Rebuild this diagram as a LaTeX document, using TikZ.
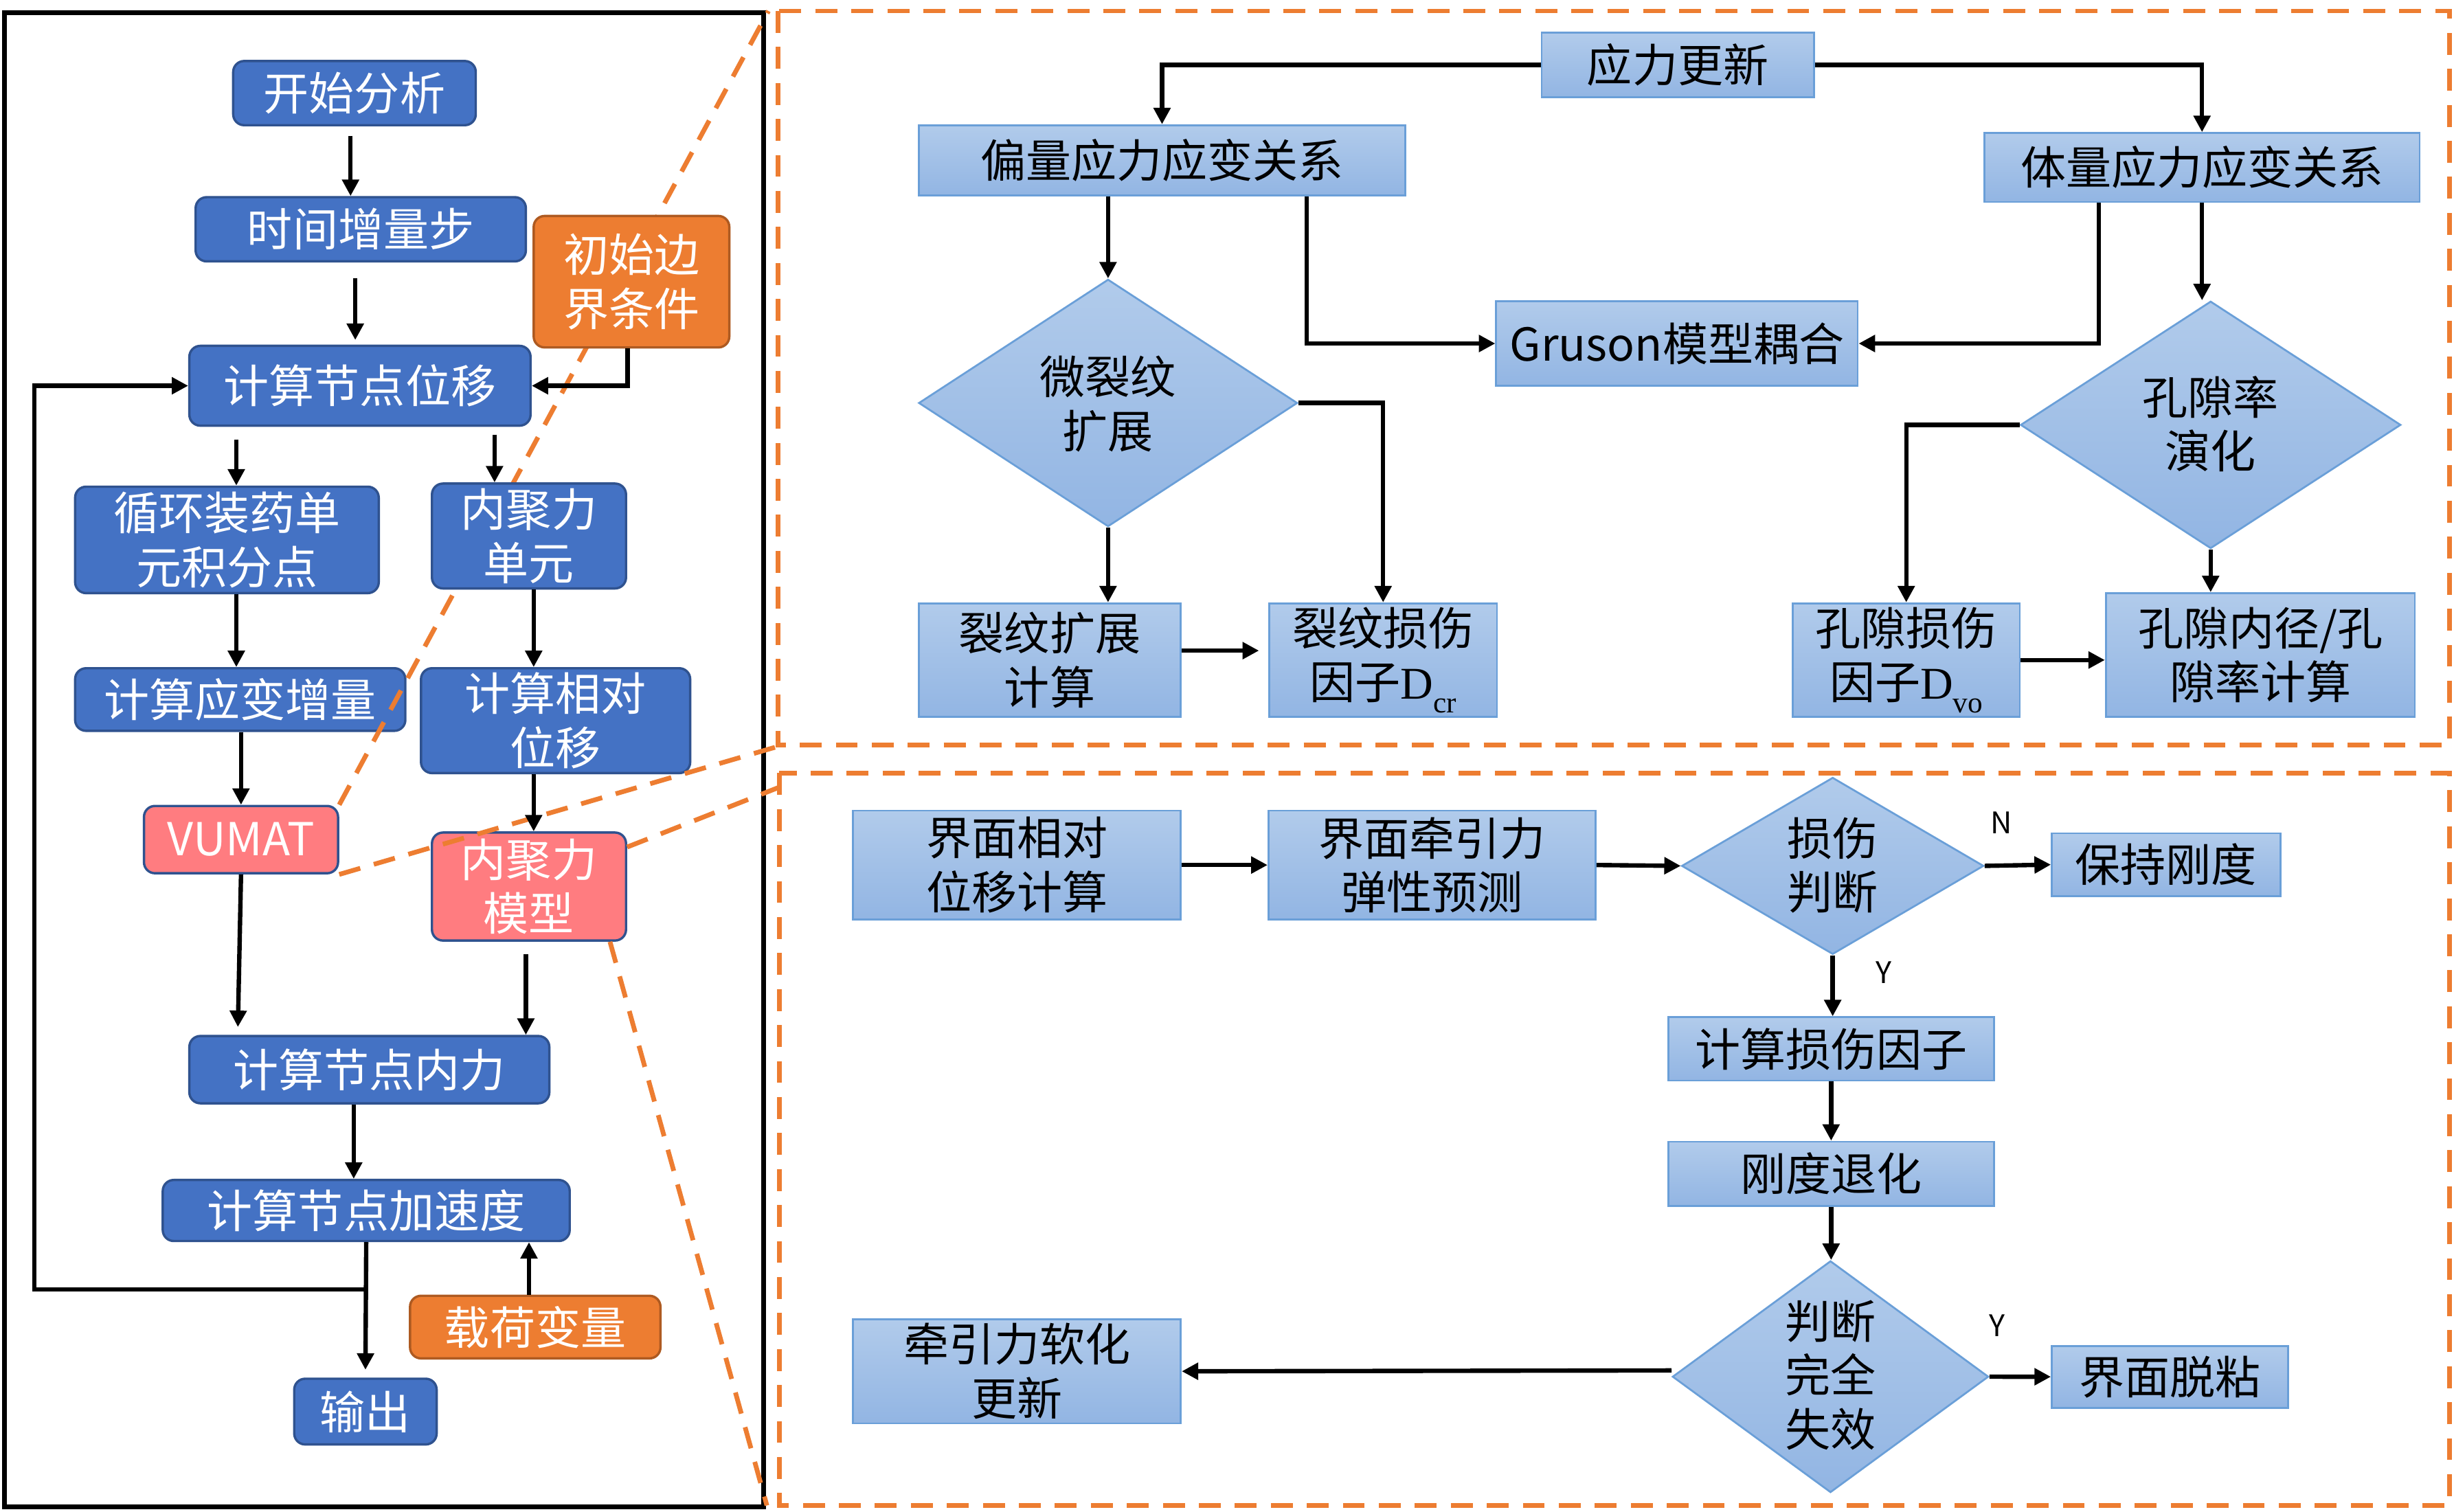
\documentclass[tikz,border=0pt]{standalone}
\usepackage{fontspec}
\newfontfamily\cjk{Noto Sans CJK SC}
\newfontfamily\tms{Liberation Serif}
\usetikzlibrary{arrows.meta,shapes.geometric}
\definecolor{bfill}{HTML}{4472C4}
\definecolor{bdraw}{HTML}{2F528F}
\definecolor{ofill}{HTML}{ED7D31}
\definecolor{odraw}{HTML}{AE5A21}
\definecolor{pfill}{HTML}{FF7C80}
\definecolor{ltop}{HTML}{B1CBEB}
\definecolor{lbot}{HTML}{92B5E3}
\definecolor{ldraw}{HTML}{6A9FD8}
\definecolor{zoomorange}{HTML}{ED7D31}
\begin{document}
\begin{tikzpicture}[x=1pt,y=-1pt,
  txt/.style={font=\cjk\fontsize{29}{34.5}\selectfont, align=center, inner sep=0pt},
  lbx/.style={txt, rectangle, rounded corners=7pt, fill=bfill, draw=bdraw, line width=1.5pt, text=white},
  obx/.style={lbx, fill=ofill, draw=odraw},
  pbx/.style={lbx, fill=pfill, draw=bdraw},
  gbx/.style={txt, rectangle, top color=ltop, bottom color=lbot, draw=ldraw, line width=1.2pt, text=black},
  gdm/.style={diamond, inner sep=0pt, top color=ltop, bottom color=lbot, draw=ldraw, line width=1.2pt},
  arr/.style={line width=2.8pt, -{Triangle[length=10.5pt,width=10.5pt]}},
  zoomline/.style={draw=zoomorange, line width=3pt, dash pattern=on 14pt off 9pt},
  yn/.style={font=\cjk\fontsize{19}{19}\selectfont, inner sep=0pt}
]
\fill[white] (0,0) rectangle (1568,966);
\useasboundingbox (0,0) rectangle (1568,966);

% ---------- left panel nodes (those under the zoom lines) ----------
\node[lbx, minimum width=155, minimum height=41] (start) at (226.5,59.5) {开始分析};
\node[lbx, minimum width=211, minimum height=41] (timestep) at (230.5,146.5) {时间增量步};
\node[lbx, minimum width=218, minimum height=51] (disp) at (230,246.5) {计算节点位移};
\node[lbx, minimum width=194, minimum height=68] (loopint) at (145,345) {循环装药单\\元积分点};
\node[lbx, minimum width=211, minimum height=40] (strain) at (153.5,447) {计算应变增量};
\node[lbx, minimum width=172, minimum height=67] (reldisp) at (355,460.5) {计算相对\\位移};
\node[pbx, minimum width=124, minimum height=43] (vumat) at (154,536.5) {VUMAT};
\node[pbx, minimum width=124, minimum height=69] (cohmod) at (338,566.5) {内聚力\\模型};
\node[lbx, minimum width=230, minimum height=43] (intforce) at (236,683.5) {计算节点内力};
\node[lbx, minimum width=260, minimum height=39] (accel) at (234,773.5) {计算节点加速度};
\node[obx, minimum width=160, minimum height=40] (load) at (342,848) {载荷变量};
\node[lbx, minimum width=91, minimum height=42] (output) at (233.5,902) {输出};

% ---------- upper right panel nodes ----------
\node[gbx, minimum width=174, minimum height=41] (stress) at (1072,41.5) {应力更新};
\node[gbx, minimum width=311, minimum height=45] (dev) at (742.5,102.5) {偏量应力应变关系};
\node[gbx, minimum width=278, minimum height=44] (vol) at (1407,107) {体量应力应变关系};
\node[gbx, minimum width=231, minimum height=54] (gruson) at (1071.5,219.5) {Gruson模型耦合};
\node[gdm, minimum width=242, minimum height=158] (d1) at (708,257.5) {};
\node[txt] (d1t) at (708,258) {微裂纹\\扩展};
\node[gdm, minimum width=243, minimum height=158] (d2) at (1412.5,271.5) {};
\node[txt] (d2t) at (1412.5,271) {孔隙率\\演化};
\node[gbx, minimum width=167.5, minimum height=72.5] (crackcalc) at (670.75,421.75) {裂纹扩展\\计算};
\node[gbx, minimum width=145.5, minimum height=72.5] (crackdmg) at (883.75,421.75) {裂纹损伤\\因子{\tms D\raisebox{-0.3em}{\fontsize{19}{19}\selectfont cr}}};
\node[gbx, minimum width=145, minimum height=72.5] (poredmg) at (1218,421.75) {孔隙损伤\\因子{\tms D\raisebox{-0.3em}{\fontsize{19}{19}\selectfont vo}}};
\node[gbx, minimum width=197.5, minimum height=79] (porecalc) at (1444.25,418.5) {孔隙内径/孔\\隙率计算};

% ---------- lower right panel nodes ----------
\node[gbx, minimum width=209.5, minimum height=69.5] (relpos) at (649.75,552.75) {界面相对\\位移计算};
\node[gbx, minimum width=209, minimum height=69.5] (trac) at (915,552.75) {界面牵引力\\弹性预测};
\node[gdm, minimum width=193, minimum height=113] (d3) at (1171,553.3) {};
\node[txt] (d3t) at (1171,553) {损伤\\判断};
\node[gbx, minimum width=146, minimum height=40] (keep) at (1384,552.5) {保持刚度};
\node[gbx, minimum width=208, minimum height=40.5] (cdf) at (1170,670.25) {计算损伤因子};
\node[gbx, minimum width=208, minimum height=41] (degrade) at (1170,750) {刚度退化};
\node[gdm, minimum width=202, minimum height=148] (d4) at (1169.6,879.7) {};
\node[txt] (d4t) at (1169.6,878.6) {判断\\完全\\失效};
\node[gbx, minimum width=151, minimum height=39.5] (debond) at (1386.5,879.75) {界面脱粘};
\node[gbx, minimum width=209.5, minimum height=66.5] (soft) at (649.75,876.25) {牵引力软化\\更新};

\node[yn] (lN) at (1278.6,525.8) {N};
\node[yn] (lY1) at (1203.8,621.5) {Y};
\node[yn] (lY2) at (1276,847) {Y};

% ---------- frames and zoom lines ----------
\draw[line width=3pt] (3,8) rectangle (488,963);
\draw[zoomline] (497,7) rectangle (1565,476);
\draw[zoomline] (498,494) rectangle (1565,962);
\draw[zoomline] (vumat.north east) -- (491,7);
\draw[zoomline] (vumat.south east) -- (497,477);
\draw[zoomline] ([yshift=-10pt]cohmod.north east) -- (498,503);
\draw[zoomline] ([xshift=-11pt]cohmod.south east) -- (490,962);

% ---------- left panel nodes that sit over the zoom lines ----------
\node[obx, minimum width=125, minimum height=84] (init) at (403.5,180) {初始边\\界条件};
\node[lbx, minimum width=124, minimum height=67] (cohel) at (338,342.5) {内聚力\\单元};

% ---------- left arrows ----------
\draw[arr] ([xshift=-2.5pt,yshift=-6pt]start.south) -- ([xshift=-2.5pt]start.south |- timestep.north);
\draw[arr] ([xshift=-3.5pt,yshift=-10pt]timestep.south) -- ([xshift=-3.5pt,yshift=3pt]timestep.south |- disp.north);
\draw[arr] ([xshift=-2.5pt]init.south) |- (disp.east);
\draw[arr] ([xshift=6pt,yshift=-8pt]loopint.north |- disp.south) -- ([xshift=6pt]loopint.north);
\draw[arr] ([xshift=-22pt,yshift=-5pt]cohel.north |- disp.south) -- ([xshift=-22pt]cohel.north);
\draw[arr] ([xshift=6pt]loopint.south) -- ([xshift=6pt]loopint.south |- strain.north);
\draw[arr] ([xshift=3pt]cohel.south) -- ([xshift=3pt]cohel.south |- reldisp.north);
\draw[arr] (vumat.north |- strain.south) -- (vumat.north);
\draw[arr] ([xshift=3pt]cohmod.north |- reldisp.south) -- ([xshift=3pt]cohmod.north);
\draw[arr] (vumat.south) -- ([xshift=-2pt,yshift=5pt]vumat.south |- intforce.north);
\draw[arr] ([xshift=-2pt,yshift=-8pt]cohmod.south) -- ([xshift=-2pt]cohmod.south |- intforce.north);
\draw[arr] ([xshift=-10pt]intforce.south) -- ([xshift=-10pt]intforce.south |- accel.north);
\draw[arr] ([xshift=-4pt]load.north) -- ([xshift=-4pt]load.north |- accel.south);
\draw[arr] (accel.south) -- ([yshift=5pt]output.north);
\coordinate (lp) at (22,824);
\draw[arr] (accel.south |- lp) -- (lp) |- (disp.west);

% ---------- upper right arrows ----------
\draw[arr] (stress.west) -| (dev.north);
\draw[arr] (stress.east) -| (vol.north);
\draw[arr] (d1.north |- dev.south) -- (d1.north);
\draw[arr] ([xshift=92.5pt]dev.south) |- (gruson.west);
\draw[arr] ([xshift=-66pt]vol.south) |- (gruson.east);
\draw[arr] (vol.south) -- (vol.south |- d2.north);
\draw[arr] (d1.east) -| (crackdmg.north);
\draw[arr] (d1.south) -- (d1.south |- crackcalc.north);
\draw[arr] ([yshift=6pt]crackcalc.east) -- ([xshift=-6pt,yshift=6pt]crackdmg.west);
\draw[arr] (d2.west) -| (poredmg.north);
\draw[arr] (d2.south) -- (d2.south |- porecalc.north);
\draw[arr] (poredmg.east) -- (poredmg.east -| porecalc.west);

% ---------- lower right arrows ----------
\draw[arr] (relpos.east) -- (trac.west);
\draw[arr] (trac.east) -- (d3.west);
\draw[arr] (d3.east) -- (keep.west);
\draw[arr] (d3.south) -- (d3.south |- cdf.north);
\draw[arr] (cdf.south) -- (cdf.south |- degrade.north);
\draw[arr] (degrade.south) -- (degrade.south |- d4.north);
\draw[arr] (d4.east) -- (debond.west);
\draw[arr] ([yshift=4pt]d4.west) -- (soft.east);
\end{tikzpicture}
\end{document}
